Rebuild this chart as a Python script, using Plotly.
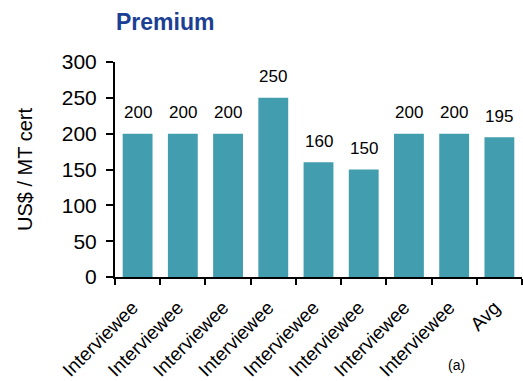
import plotly.graph_objects as go

categories = ["Interviewee", "Interviewee", "Interviewee", "Interviewee", "Interviewee",
              "Interviewee", "Interviewee", "Interviewee", "Avg"]
values = [200, 200, 200, 250, 160, 150, 200, 200, 195]
x_ids = [f"c{i}" for i in range(len(categories))]

FONT = "Liberation Sans"

fig = go.Figure()
fig.add_trace(go.Bar(
    x=x_ids, y=values,
    marker=dict(color="#429DAE", line=dict(width=0)),
    width=0.66,
))

for xi, v in zip(x_ids, values):
    fig.add_annotation(x=xi, y=v, text=str(v), showarrow=False,
                       yanchor="middle", yshift=21,
                       font=dict(family=FONT, size=17, color="#000"))

fig.add_annotation(xref="paper", yref="paper", x=(456 - 115) / 407, y=(277 - 365) / 215,
                   text="(a)", showarrow=False, xanchor="center", yanchor="middle",
                   font=dict(family=FONT, size=14, color="#000"))

fig.update_layout(
    width=523, height=381,
    margin=dict(l=115, r=1, t=62, b=104, autoexpand=False),
    paper_bgcolor="white", plot_bgcolor="white",
    showlegend=False,
    title=dict(text="<b>Premium</b>", x=116/523, xanchor="left", y=1-22/381, yanchor="middle",
               font=dict(family=FONT, size=23, color="#1C3F94")),
    font=dict(family=FONT, color="#000"),
)
fig.update_xaxes(
    type="category", tickmode="array", tickvals=x_ids, ticktext=categories,
    tickangle=-45, tickfont=dict(size=19), tickson="boundaries",
    ticks="outside", ticklen=6, tickwidth=2, tickcolor="#000",
    ticklabelstandoff=10, ticklabelshift=-5, automargin=False,
    showline=True, linecolor="#000", linewidth=2, showgrid=False,
)
fig.update_yaxes(
    range=[0, 300], tickvals=[0, 50, 100, 150, 200, 250, 300],
    tickfont=dict(size=21), ticks="outside", ticklen=7, tickwidth=2, tickcolor="#000",
    ticklabelstandoff=5,
    showline=True, linecolor="#000", linewidth=2, showgrid=False, zeroline=False,
    automargin=False,
    title=dict(text="US$ / MT cert", font=dict(size=20), standoff=24),
)

fig.write_html("out.html")
